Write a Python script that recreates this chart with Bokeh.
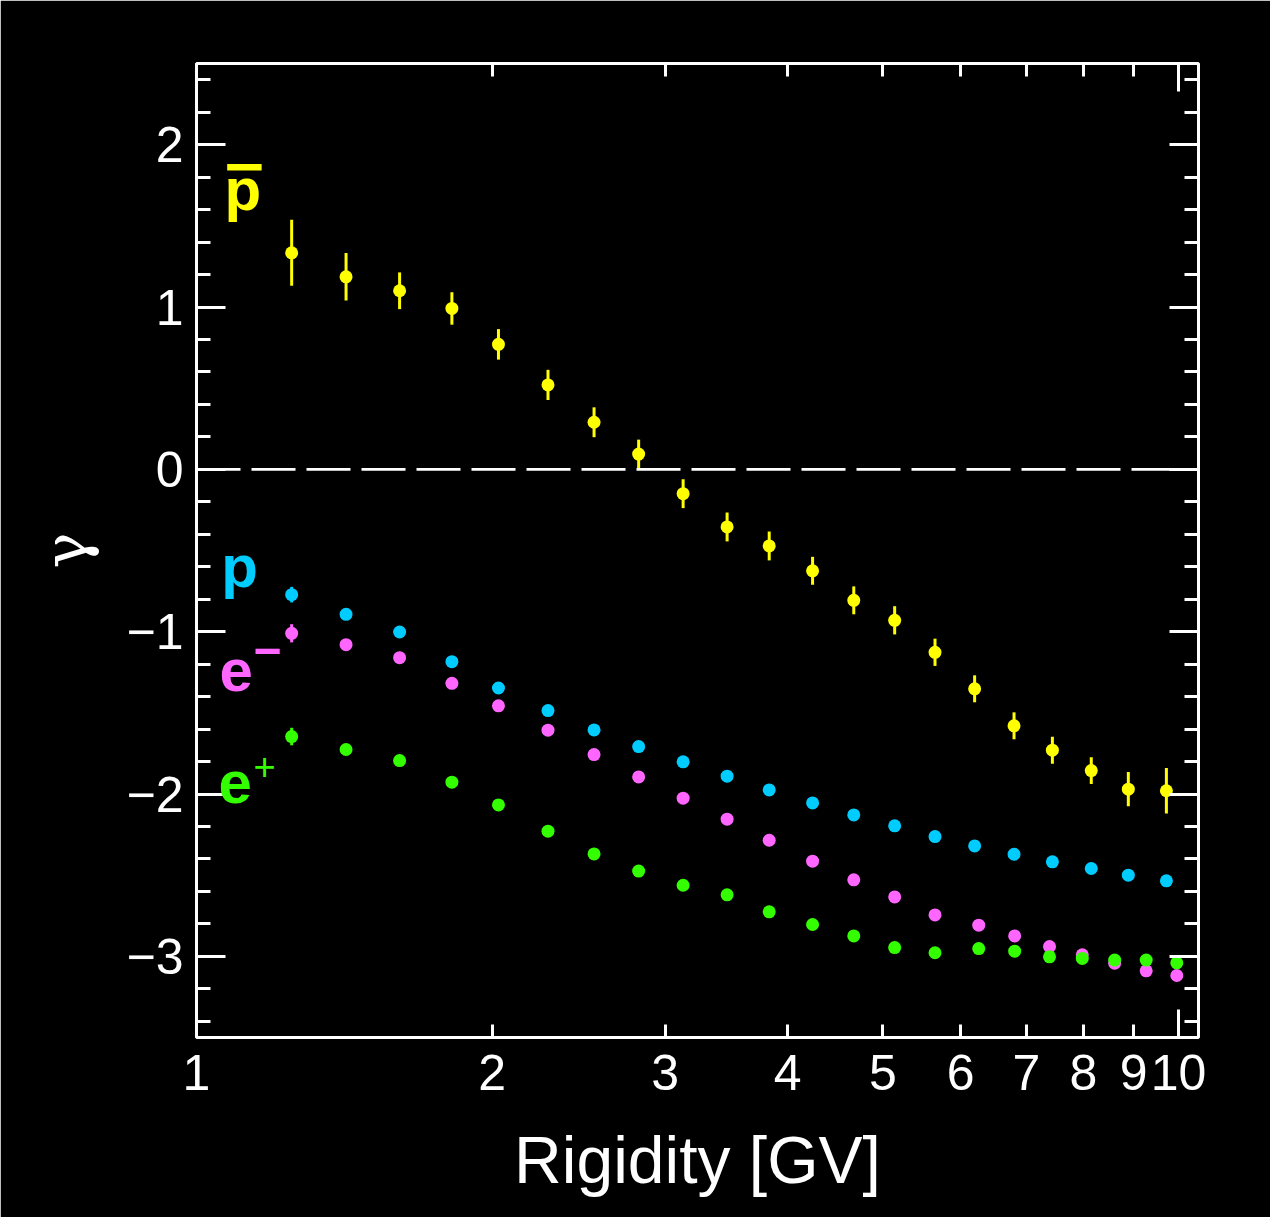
from bokeh.plotting import figure
from bokeh.models import Range1d, LogAxis, LinearAxis, FixedTicker, Span, Label
from bokeh.embed import file_html
from bokeh.resources import INLINE

# Rigidity bin centres [GV]
rig_had = [1.25, 1.42, 1.61, 1.82, 2.03, 2.28, 2.54, 2.82, 3.13, 3.47, 3.83,
           4.24, 4.67, 5.14, 5.65, 6.20, 6.80, 7.44, 8.15, 8.89, 9.72]
rig_lep = [1.25, 1.42, 1.61, 1.82, 2.03, 2.28, 2.54, 2.82, 3.13, 3.47, 3.83,
           4.24, 4.67, 5.14, 5.65, 6.26, 6.81, 7.39, 7.98, 8.61, 9.27, 9.96]

# Spectral index gamma with uncertainties
gamma_pbar = [1.334, 1.186, 1.10, 0.991, 0.77, 0.52, 0.29, 0.094, -0.15, -0.355, -0.472,
              -0.625, -0.807, -0.93, -1.127, -1.352, -1.58, -1.73, -1.856, -1.97, -1.98]
err_pbar = [0.203, 0.146, 0.113, 0.10, 0.094, 0.093, 0.092, 0.089, 0.089, 0.089, 0.089,
            0.086, 0.086, 0.087, 0.084, 0.083, 0.083, 0.083, 0.083, 0.106, 0.14]

gamma_p = [-0.772, -0.893, -1.002, -1.185, -1.347, -1.486, -1.605, -1.708, -1.802, -1.89, -1.975,
           -2.055, -2.129, -2.196, -2.262, -2.32, -2.371, -2.418, -2.459, -2.5, -2.535]
err_p = [0.048] + [0.015] * 20

gamma_em = [-1.01, -1.08, -1.16, -1.318, -1.457, -1.607, -1.757, -1.895, -2.026, -2.155, -2.285,
            -2.414, -2.529, -2.634, -2.745, -2.808, -2.874, -2.94, -2.991, -3.042, -3.089, -3.118]
err_em = [0.056] + [0.015] * 21

gamma_ep = [-1.646, -1.726, -1.794, -1.927, -2.067, -2.229, -2.369, -2.475, -2.562, -2.621, -2.726,
            -2.804, -2.874, -2.946, -2.978, -2.952, -2.968, -3.003, -3.013, -3.023, -3.023, -3.04]
err_ep = [0.054] + [0.015] * 21

x_major = [1, 2, 3, 4, 5, 6, 7, 8, 9, 10]
x_labels = {v: str(v) for v in x_major}
y_major = [-3, -2, -1, 0, 1, 2]
y_labels = {-3: "\u22123", -2: "\u22122", -1: "\u22121", 0: "0", 1: "1", 2: "2"}
y_minor = [round(-3.4 + 0.2 * i, 1) for i in range(30)]
y_minor = [v for v in y_minor if abs(v - round(v)) > 1e-6]

YELLOW = "#FFFF00"
CYAN = "#00CCFF"
PINK = "#FF66FF"
GREEN = "#33FF00"
WHITE = "#FFFFFF"
FONT = "Liberation Sans"

p = figure(frame_width=1002, frame_height=974, x_axis_type="log",
           x_range=Range1d(1, 10.48), y_range=Range1d(-3.5, 2.5),
           output_backend="svg", toolbar_location=None,
           min_border_left=196, min_border_right=72, min_border_top=63, min_border_bottom=180,
           background_fill_color="black", border_fill_color="black",
           outline_line_color=WHITE, outline_line_width=3)
p.grid.visible = False


def tick_style(ax, major_in, minor_in):
    ax.axis_line_color = None
    ax.major_tick_line_color = WHITE
    ax.minor_tick_line_color = WHITE
    ax.major_tick_line_width = 3
    ax.minor_tick_line_width = 3
    ax.major_tick_in = major_in
    ax.major_tick_out = 0
    ax.minor_tick_in = minor_in
    ax.minor_tick_out = 0


def hide_labels(ax, ticks):
    ax.major_label_overrides = {t: "" for t in ticks}
    ax.major_label_text_font_size = "1px"
    ax.major_label_standoff = 0


# bottom: tick marks (long at decades, short in between)
xb = p.below[0]
xb.ticker = FixedTicker(ticks=[1, 10], minor_ticks=[2, 3, 4, 5, 6, 7, 8, 9])
tick_style(xb, 28, 13)
hide_labels(xb, [1, 10])

# bottom: numbers and title
xl = LogAxis(ticker=FixedTicker(ticks=x_major, minor_ticks=[]))
tick_style(xl, 0, 0)
xl.major_label_overrides = x_labels
xl.major_label_text_color = WHITE
xl.major_label_text_font = FONT
xl.major_label_text_font_size = "50px"
xl.major_label_standoff = 17
xl.axis_label = "Rigidity [GV]"
xl.axis_label_text_color = WHITE
xl.axis_label_text_font = FONT
xl.axis_label_text_font_style = "normal"
xl.axis_label_text_font_size = "66px"
xl.axis_label_standoff = 30
p.add_layout(xl, "below")

# top mirror
xt = LogAxis(ticker=FixedTicker(ticks=[1, 10], minor_ticks=[2, 3, 4, 5, 6, 7, 8, 9]))
tick_style(xt, 28, 13)
hide_labels(xt, [1, 10])
p.add_layout(xt, "above")

# left axis
yl = p.left[0]
yl.ticker = FixedTicker(ticks=y_major, minor_ticks=y_minor)
tick_style(yl, 29, 14)
yl.major_label_overrides = y_labels
yl.major_label_text_color = WHITE
yl.major_label_text_font = FONT
yl.major_label_text_font_size = "50px"
yl.major_label_standoff = 13
yl.axis_label = "\u03b3"
yl.axis_label_text_color = WHITE
yl.axis_label_text_font = "DejaVu Serif"
yl.axis_label_text_font_style = "normal"
yl.axis_label_text_font_size = "60px"
yl.axis_label_standoff = 22

# right mirror
yr = LinearAxis(ticker=FixedTicker(ticks=y_major, minor_ticks=y_minor))
tick_style(yr, 29, 14)
hide_labels(yr, y_major)
p.add_layout(yr, "right")

# zero reference
p.add_layout(Span(location=0, dimension="width", line_color=WHITE,
                  line_width=2.7, line_dash="44 11"))


def series(xs, ys, es, color):
    lo = [y - e for y, e in zip(ys, es)]
    hi = [y + e for y, e in zip(ys, es)]
    p.segment(x0=xs, x1=xs, y0=lo, y1=hi, line_color=color, line_width=3)
    p.scatter(xs, ys, size=13, fill_color=color, line_color=None)


series(rig_had, gamma_pbar, err_pbar, YELLOW)
series(rig_had, gamma_p, err_p, CYAN)
series(rig_lep, gamma_em, err_em, PINK)
series(rig_lep, gamma_ep, err_ep, GREEN)


def tag(x, y, text, color, size, style="bold"):
    p.add_layout(Label(x=x, y=y, text=text, text_color=color, text_font=FONT,
                       text_font_size=size, text_font_style=style,
                       text_baseline="alphabetic", text_align="left"))


# particle tags
tag(1.068, 1.726, "p", YELLOW, "60px")
p.segment(x0=[1.0746], x1=[1.165], y0=[1.861], y1=[1.861],
          line_color=YELLOW, line_width=6.5, line_cap="butt")
tag(1.060, -0.596, "p", CYAN, "60px")
tag(1.0554, -1.241, "e", PINK, "60px")
tag(1.143, -1.115, "\u2212", PINK, "48px")
tag(1.053, -1.93, "e", GREEN, "60px")
tag(1.143, -1.83, "+", GREEN, "38px", "normal")

open("out.html", "w").write(file_html(p, INLINE))
